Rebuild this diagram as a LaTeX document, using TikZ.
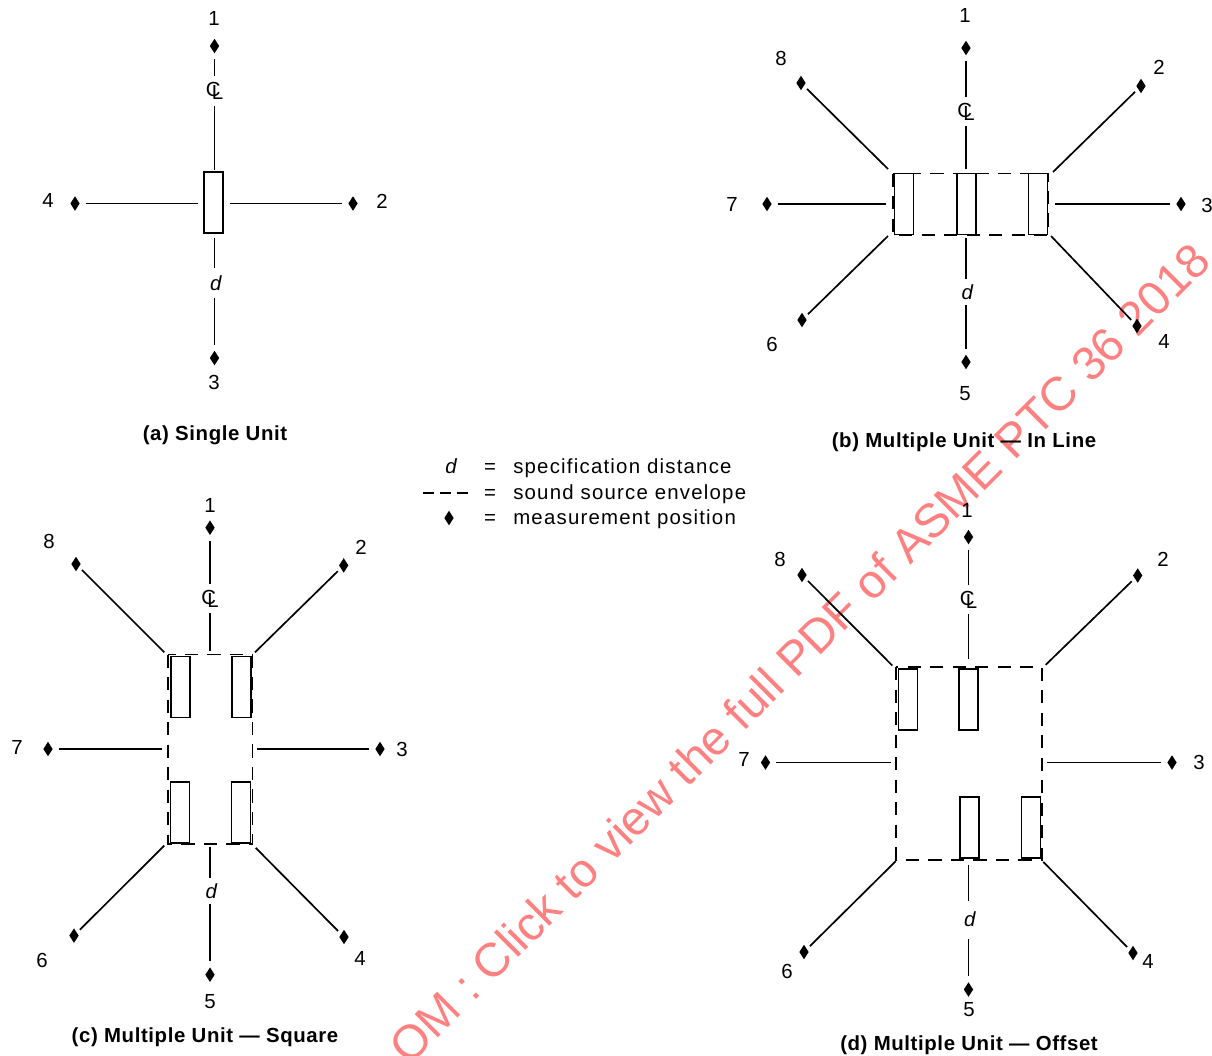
\documentclass[tikz,border=0pt]{standalone}
\usepackage{fontspec}
\setmainfont{Liberation Sans}
\newfontfamily\labelfont[LetterSpace=6]{Liberation Sans}
\newfontfamily\capfont[LetterSpace=3]{Liberation Sans Bold}
\newcommand{\clsym}{\makebox[0pt]{C\kern-0.42em\raisebox{-0.14em}{L}}}
\definecolor{markpink}{RGB}{255,128,128}
\usetikzlibrary{shapes.geometric}

\begin{document}
\begin{tikzpicture}[x=0.025cm, y=-0.025cm,
    conn/.style={line width=1.2pt},
    meas/.style={diamond, fill=black, inner sep=0pt, minimum width=0.32cm, minimum height=0.45cm, outer sep=3pt},
    num/.style={inner sep=0pt, font=\labelfont\fontsize{14.5}{17}\selectfont},
    unitbox/.style={draw, line width=1.2pt, inner sep=0pt, minimum width=0.475cm, minimum height=1.525cm},
    envelope/.style={line width=1.2pt, dash pattern=on 9.5pt off 6.5pt},
    clmark/.style={num, minimum height=0.72cm},
    dist/.style={inner sep=0pt, font=\fontsize{14.5}{17}\selectfont\itshape},
    legend/.style={num, anchor=base west},
    caption/.style={inner sep=0pt, font=\capfont\fontsize{14.5}{17}\selectfont}]
    \useasboundingbox (0,0) rectangle (1212,1055);
    \clip (0,0) rectangle (1212,1055);

    \node [rotate=45, anchor=east, text=markpink, inner sep=0pt, font=\fontsize{33.8}{40}\selectfont] (wm) at (1201,251)
        {OM : Click to view the full PDF of ASME PTC 36 2018};

    \foreach \pt/\n/\x/\y/\lx/\ly in {
        a1/1/214.5/46/214/18, a2/2/353/203.5/382/201, a3/3/214.5/358/214/382, a4/4/75/203.5/48/200,
        b1/1/966/48/965/15, b2/2/1141/86/1159/67, b3/3/1181/204/1207/205, b4/4/1137/326/1164/341,
        b5/5/966/362/965/394, b6/6/802/320/772/344, b7/7/767/204/732/204, b8/8/801/83/781/58,
        c1/1/210/527.7/210/505, c2/2/343.7/565.4/361/547, c3/3/380/749/402/749, c4/4/344/937/360/958,
        c5/5/210/974.7/210/1002, c6/6/74/935.6/42/960, c7/7/48/749/17/747, c8/8/76/564/49/541,
        d1/1/968.5/537/967/510, d2/2/1137.7/575.5/1163/559, d3/3/1172/762.5/1199/762, d4/4/1133/953/1148/961,
        d5/5/968.5/989.5/969/1010, d6/6/804/952/787/971, d7/7/765.5/762.5/744/759, d8/8/802/575/780/559}
    {
        \node [meas] (\pt) at (\x,\y) {};
        \node [num] (\pt l) at (\lx,\ly) {\n};
    }

    \foreach \pt/\x/\y in {
        a2/230/203.5, a4/198/203.5,
        b2/1053/172, b3/1055/204, b4/1051/236, b6/888/236, b7/886/204, b8/888/169,
        c2/255/652.3, c3/257/749, c4/255.7/847.8, c6/164.3/845.6, c7/162/749, c8/164.3/652.3,
        d2/1045.7/664.8, d3/1047/762.5, d4/1043.3/861.9, d6/895.7/861.2, d7/890.7/762.5, d8/892.3/665.5}
    {
        \coordinate (\pt e) at (\x,\y);
        \draw [conn] (\pt) -- (\pt e);
    }

    \foreach \p/\nup/\nlo/\x/\cy/\dy/\uy/\ly/\dh in {
        a/1/3/214.5/91/283/170/238/0.725cm,
        b/1/5/966/111.5/292/169/238/0.65cm,
        c/1/5/210/598.5/891/650.5/846.7/0.64cm,
        d/1/5/968.5/599.5/919.7/658.6/864.8/0.945cm}
    {
        \node [clmark] (\p cl) at (\x,\cy) {\clsym};
        \node [dist, minimum height=\dh] (\p dd) at (\x,\dy) {\kern2pt d};
        \coordinate (\p u) at (\x,\uy);
        \coordinate (\p w) at (\x,\ly);
        \draw [conn] (\p\nup) -- (\p cl);
        \draw [conn] (\p cl) -- (\p u);
        \draw [conn] (\p w) -- (\p dd);
        \draw [conn] (\p dd) -- (\p\nlo);
    }

    \draw [envelope] (893,173.5) rectangle (1048,235);
    \draw [envelope] (168,654.5) rectangle (252.5,843.8);
    \draw [envelope] (896,667) rectangle (1042,859.7);

    \foreach \u/\x/\y in {
        au/213.5/202.5,
        bu1/904/204, bu2/966.5/204, bu3/1038/204,
        cu1/180.5/687, cu2/241.5/687, cu3/180/812.5, cu4/241/812.5,
        du1/908/699.5, du2/968.5/699.5, du3/969.5/827.5, du4/1031/827.5}
        \node [unitbox] (\u) at (\x,\y) {};

    \node [caption] (capa) at (215,435) {(a) Single Unit};
    \node [caption] (capb) at (964,442) {(b) Multiple Unit — In Line};
    \node [caption] (capc) at (205,1037) {(c) Multiple Unit — Square};
    \node [caption] (capd) at (969,1045) {(d) Multiple Unit — Offset};

    \node [dist, anchor=base] (keyd) at (451,473) {d};
    \coordinate (keyl) at (423,493);
    \coordinate (keyr) at (468,493);
    \draw [line width=1.1pt, dash pattern=on 7.8pt off 4.25pt] (keyl) -- (keyr);
    \node [meas] (keym) at (449,518) {};
    \foreach \k/\y/\txt in {one/473/specification distance, two/499/sound source envelope, three/524/measurement position}
    {
        \node [num, anchor=base] (\k eq) at (490,\y) {=};
        \node [legend] (\k) at (513,\y) {\txt};
    }
\end{tikzpicture}
\end{document}
